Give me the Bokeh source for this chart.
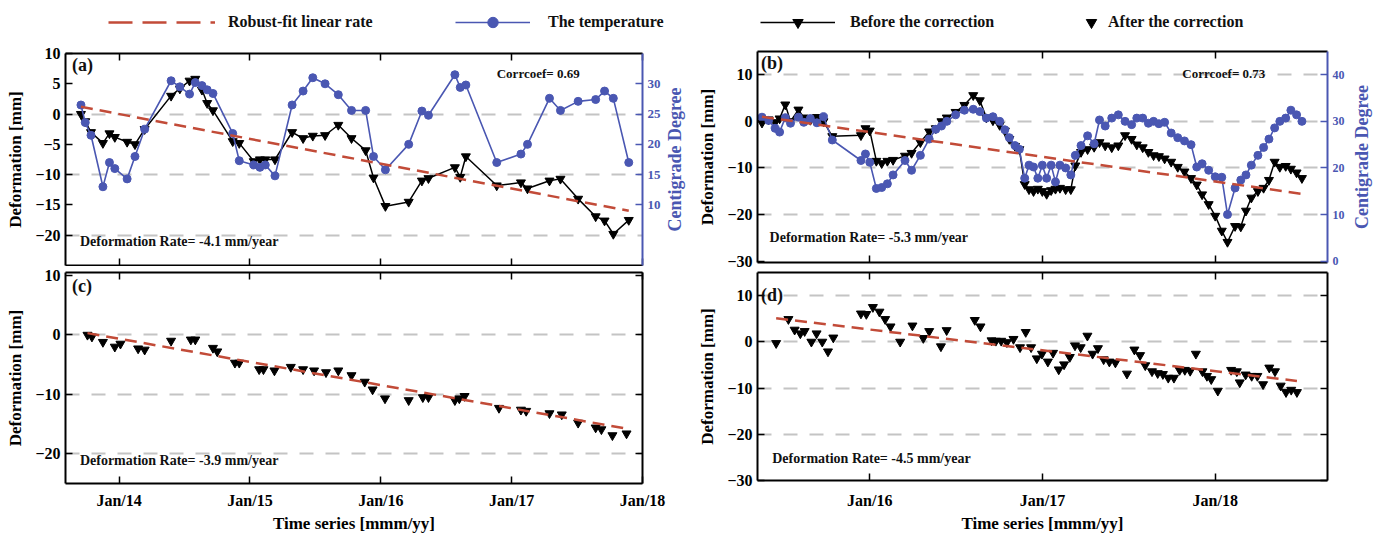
import math
from bokeh.plotting import figure
from bokeh.models import Range1d, LinearAxis, FixedTicker, Label, Legend, LegendItem
from bokeh.layouts import column, row
from bokeh.embed import file_html
from bokeh.resources import INLINE

# ---------------- data ----------------
year_ticks = [2014, 2015, 2016, 2017, 2018]
year_labels = ["Jan/14", "Jan/15", "Jan/16", "Jan/17", "Jan/18"]

# Site 1 (panels a, c): acquisition dates in decimal years
t_a = [2013.708, 2013.741, 2013.785, 2013.876, 2013.926, 2013.967, 2014.061, 2014.121,
       2014.195, 2014.397, 2014.464, 2014.538, 2014.582, 2014.633, 2014.673, 2014.717,
       2014.868, 2014.918, 2015.029, 2015.076, 2015.117, 2015.191, 2015.322, 2015.406,
       2015.480, 2015.574, 2015.675, 2015.776, 2015.884, 2015.944, 2016.035, 2016.213,
       2016.314, 2016.364, 2016.566, 2016.607, 2016.650, 2016.886, 2017.071, 2017.121,
       2017.289, 2017.373, 2017.508, 2017.642, 2017.710, 2017.777, 2017.895]
# deformation before the thermal correction [mm]
before_a = [0, -1.2, -3, -4.8, -3.2, -3.8, -4.6, -5, -2.5, 3, 4.2, 5.5, 5.8, 4.0, 1.8, 0.6,
            -4.5, -4.8, -7.8, -7.5, -7.5, -7.5, -3, -4, -3.6, -3.5, -1.8, -4, -6, -10.5,
            -15.2, -14.5, -11, -10.6, -8.8, -10.4, -7, -11.8, -11.3, -12.3, -11, -10.7,
            -14, -16.9, -17.6, -19.8, -17.5]
# air temperature [deg C]
temp_a = [26.5, 23.6, 21.5, 13, 17, 16, 14.3, 18, 22.5, 30.5, 29.5, 28.3, 30.2, 29.7, 29.0,
          28.4, 21.8, 17.3, 16.6, 16.2, 16.6, 14.8, 26.5, 28.8, 31, 30, 28.2, 25.6, 25.6,
          18, 15.8, 20, 25.5, 24.8, 31.5, 29.4, 29.8, 17, 18.4, 20, 27.6, 25.6, 27.1, 27.4,
          28.8, 27.6, 17]

t_c = [2013.758, 2013.792, 2013.876, 2013.967, 2014.010, 2014.145, 2014.195, 2014.397,
       2014.548, 2014.582, 2014.717, 2014.750, 2014.885, 2014.918, 2015.070, 2015.103,
       2015.187, 2015.312, 2015.406, 2015.490, 2015.581, 2015.675, 2015.776, 2015.877,
       2015.937, 2016.032, 2016.213, 2016.321, 2016.364, 2016.566, 2016.600, 2016.640,
       2016.903, 2017.071, 2017.111, 2017.289, 2017.383, 2017.508, 2017.642, 2017.686,
       2017.770, 2017.878]
# deformation after the thermal correction [mm]
after_c = [0, -0.3, -1.2, -2, -1.5, -2.3, -2.5, -1, -0.8, -0.8, -2.2, -2.8, -4.7, -4.7,
           -5.8, -5.8, -6, -5.4, -5.8, -6, -6.3, -6, -6.8, -7.9, -9.2, -10.7, -11, -10.5,
           -10.5, -11, -10.7, -10.3, -12.3, -12.6, -12.8, -13.2, -13.4, -14.8, -15.6,
           -15.9, -16.9, -16.6]

# Site 2 (panels b, d)
t_b = [2015.376, 2015.414, 2015.452, 2015.478, 2015.511, 2015.541, 2015.587, 2015.618,
       2015.656, 2015.694, 2015.732, 2015.783, 2015.949, 2015.975, 2016.000, 2016.038,
       2016.069, 2016.102, 2016.135, 2016.204, 2016.242, 2016.293, 2016.344, 2016.382,
       2016.415, 2016.446, 2016.497, 2016.548, 2016.599, 2016.637, 2016.675, 2016.713,
       2016.752, 2016.782, 2016.808, 2016.841, 2016.866, 2016.897, 2016.922, 2016.948,
       2016.973, 2016.999, 2017.024, 2017.050, 2017.075, 2017.101, 2017.134, 2017.164,
       2017.190, 2017.223, 2017.261, 2017.299, 2017.330, 2017.363, 2017.401, 2017.439,
       2017.478, 2017.516, 2017.546, 2017.580, 2017.613, 2017.643, 2017.674, 2017.707,
       2017.745, 2017.783, 2017.822, 2017.860, 2017.893, 2017.924, 2017.962, 2018.000,
       2018.038, 2018.071, 2018.115, 2018.148, 2018.178, 2018.209, 2018.247, 2018.280,
       2018.311, 2018.344, 2018.374, 2018.408, 2018.438, 2018.471, 2018.502]
before_b = [-0.3, 0.4, -0.2, 0.6, 3.6, 0.0, 2.5, 0.8, 0.3, 0.9, 0.0, -3.2, -3.0, -1.5, -2.0,
            -8.5, -9.0, -8.5, -8.3, -7.4, -6.8, -4.5, -2.2, -1.5, 0.0, 0.8, 2.0, 3.5, 5.6,
            4.5, 0.8, 0.2, -0.8, -2.0, -3.8, -5.3, -6.0, -13.5, -14.6, -15.0, -14.5, -15.0,
            -15.6, -14.8, -14.5, -14.3, -14.6, -14.6, -9.5, -6.6, -6.0, -5.5, -4.5, -5.2,
            -5.6, -5.2, -3.0, -3.8, -5.0, -5.6, -6.6, -7.3, -7.5, -8.0, -8.7, -9.8, -10.8,
            -12.2, -13.6, -15.7, -17.8, -20.3, -23.5, -25.9, -22.5, -22.6, -19.2, -16.4,
            -15.0, -14.3, -12.6, -8.7, -9.8, -9.6, -10.2, -11.0, -12.2]
temp_b = [30.9, 30.2, 28.5, 27.7, 30.8, 29.6, 30.9, 29.8, 30.6, 29.7, 31.0, 26.0, 21.6, 23.0,
          21.2, 15.6, 15.8, 16.6, 18.5, 21.6, 19.5, 22.7, 26.2, 28.3, 29.0, 30.0, 31.4, 32.4,
          32.6, 32.1, 30.7, 31.0, 30.0, 28.2, 26.5, 24.8, 24.0, 17.8, 20.6, 20.2, 17.8, 20.6,
          17.8, 20.6, 17.0, 20.6, 20.0, 18.5, 22.7, 24.8, 26.9, 25.2, 30.3, 29.0, 30.7, 31.4,
          30.0, 29.3, 30.7, 30.7, 29.6, 30.0, 29.5, 29.8, 27.5, 26.5, 25.8, 25.0, 20.2, 20.9,
          19.5, 18.1, 18.0, 10.0, 15.7, 17.4, 18.5, 20.6, 22.7, 24.4, 26.2, 28.6, 30.0, 30.7,
          32.4, 31.4, 30.0]

t_d = [2015.458, 2015.529, 2015.565, 2015.598, 2015.623, 2015.662, 2015.692, 2015.725,
       2015.758, 2015.789, 2015.949, 2015.980, 2016.018, 2016.056, 2016.089, 2016.120,
       2016.176, 2016.247, 2016.310, 2016.344, 2016.412, 2016.445, 2016.608, 2016.641,
       2016.705, 2016.730, 2016.761, 2016.794, 2016.832, 2016.870, 2016.903, 2016.934,
       2016.967, 2016.997, 2017.031, 2017.061, 2017.094, 2017.125, 2017.158, 2017.188,
       2017.221, 2017.260, 2017.290, 2017.321, 2017.354, 2017.387, 2017.422, 2017.489,
       2017.532, 2017.565, 2017.595, 2017.634, 2017.667, 2017.697, 2017.728, 2017.761,
       2017.794, 2017.824, 2017.855, 2017.888, 2017.926, 2017.952, 2017.977, 2018.015,
       2018.092, 2018.125, 2018.142, 2018.176, 2018.211, 2018.244, 2018.277, 2018.313,
       2018.346, 2018.379, 2018.410, 2018.440, 2018.473]
after_d = [-0.3, 4.9, 2.6, 1.8, 2.3, 0, 1.8, 0, -2.1, 0.9, 6.1, 6.0, 7.5, 6.5, 4.9, 3.3, 0,
           3.5, 0.8, 2.3, -1.0, 2.5, 4.7, 3.3, 0.3, 0.2, 0.2, -0.1, 0.6, -1.2, 2.1, -1.2,
           -3.6, -2.6, -4.3, -2.4, -6.0, -4.9, -3.3, -0.8, -1.2, 1.3, -2.6, -1.4, -3.8,
           -4.3, -4.5, -6.9, -1.7, -2.9, -5.1, -6.4, -6.8, -7.0, -7.8, -7.8, -6.1, -6.1,
           -6.3, -2.6, -6.4, -7.4, -8.1, -10.6, -6.1, -6.4, -8.8, -7.1, -7.4, -7.4, -9.2,
           -5.6, -6.4, -9.5, -10.9, -10.4, -10.9]

# robust-fit linear rates [mm/year] and fit values at the first epoch [mm]
rate_a, rate_b, rate_c, rate_d = -4.1, -5.3, -3.9, -4.5
fit0_a, fit0_b, fit0_c, fit0_d = 1.2, 1.0, 0.3, 5.1
corrcoef_a, corrcoef_b = 0.69, 0.73

# ---------------- style ----------------
FONT = "Liberation Serif"
BLUE = "#4a57b2"
RED = "#c24b38"
GRIDC = "#c4c4c4"
NAN = float("nan")


def fit_line(t, y0, rate):
    return [t[0], t[-1]], [y0, y0 + rate * (t[-1] - t[0])]


def style_axis(ax, color="black", labels=True, size="16px"):
    ax.axis_line_color = color
    ax.axis_line_width = 2
    ax.major_tick_line_color = color
    ax.major_tick_line_width = 1.5
    ax.major_tick_in = 7
    ax.major_tick_out = 0
    ax.minor_tick_line_color = None
    ax.major_label_text_font = FONT
    ax.major_label_text_font_style = "bold"
    ax.axis_label_text_font = FONT
    ax.axis_label_text_font_style = "bold"
    ax.axis_label_text_color = color
    ax.axis_label_text_font_size = "17px"
    if labels:
        ax.major_label_text_color = color
        ax.major_label_text_font_size = size
        ax.major_label_standoff = 5
    else:
        # tick marks only
        ax.major_label_text_color = None
        ax.major_label_text_font_size = "0px"
        ax.major_label_standoff = 0


def panel(width, height, xr, yr, borders, grid_ticks):
    left, right, top, bottom = borders
    p = figure(width=width, height=height, x_range=Range1d(*xr), y_range=Range1d(*yr),
               x_axis_location=None, y_axis_location=None,
               min_border_left=left, min_border_right=right,
               min_border_top=top, min_border_bottom=bottom,
               output_backend="svg", toolbar_location=None, outline_line_color=None,
               background_fill_color="white", border_fill_color="white")
    p.xgrid.grid_line_color = None
    p.ygrid.ticker = FixedTicker(ticks=grid_ticks)
    p.ygrid.grid_line_color = GRIDC
    p.ygrid.grid_line_width = 1.8
    p.ygrid.grid_line_dash = "14 12"
    return p


def title_strip(width, height, x, y):
    """Narrow canvas holding the temperature-axis title, reading upwards."""
    s = figure(width=width, height=height, x_range=Range1d(0, 1), y_range=Range1d(0, 1),
               x_axis_location=None, y_axis_location=None,
               min_border_left=0, min_border_right=0, min_border_top=0, min_border_bottom=0,
               output_backend="svg", toolbar_location=None, outline_line_color=None)
    s.grid.grid_line_color = None
    s.add_layout(Label(x=x, y=y, text="Centigrade Degree", angle=math.pi / 2,
                       text_font=FONT, text_font_style="bold", text_font_size="18px",
                       text_align="center", text_baseline="middle", text_color=BLUE))
    return s


def x_axes(p, labelled, label_standoff=8):
    bottom = LinearAxis(ticker=FixedTicker(ticks=year_ticks),
                        major_label_overrides=dict(zip(year_ticks, year_labels)))
    style_axis(bottom, labels=labelled)
    if labelled:
        bottom.axis_label = "Time series [mmm/yy]"
        bottom.major_label_standoff = label_standoff
        bottom.axis_label_standoff = 2
    p.add_layout(bottom, "below")
    top = LinearAxis(ticker=FixedTicker(ticks=year_ticks))
    style_axis(top, labels=False)
    p.add_layout(top, "above")


def left_axis(p, ticks):
    ax = LinearAxis(ticker=FixedTicker(ticks=ticks), axis_label="Deformation [mm]")
    style_axis(ax)
    ax.axis_label_standoff = 7
    p.add_layout(ax, "left")


def temp_axis(p, ticks, size):
    ax = LinearAxis(y_range_name="temp", ticker=FixedTicker(ticks=ticks))
    style_axis(ax, color=BLUE, size=size)
    p.add_layout(ax, "right")


def mirror_axis(p, ticks):
    ax = LinearAxis(ticker=FixedTicker(ticks=ticks))
    style_axis(ax, labels=False)
    p.add_layout(ax, "right")


def text(p, x, y, s, size, align="left", baseline="middle"):
    p.add_layout(Label(x=x, y=y, text=s, text_font=FONT, text_font_style="bold",
                       text_font_size=size, text_align=align, text_baseline=baseline,
                       text_color="#111111"))


def before_series(p, t, v):
    p.line(t, v, line_color="black", line_width=1.5)
    p.scatter(t, v, marker="inverted_triangle", size=9, color="black")


def temp_series(p, t, v):
    p.line(t, v, y_range_name="temp", line_color=BLUE, line_width=1.6)
    p.scatter(t, v, y_range_name="temp", marker="circle", size=8, color=BLUE)


def after_series(p, t, v):
    p.scatter(t, v, marker="inverted_triangle", size=9, color="black")


def fit_series(p, t, y0, rate):
    fx, fy = fit_line(t, y0, rate)
    p.line(fx, fy, line_color=RED, line_width=2.5, line_dash="12 7")


XR_1 = (2013.59, 2018.0)
XR_2 = (2015.35, 2018.65)

# ---------------- (a) ----------------
pa = panel(663, 226, XR_1, (-25, 10), (65, 21, 13, 1), [0, -10, -20])
pa.extra_y_ranges = {"temp": Range1d(0, 35)}
x_axes(pa, False)
left_axis(pa, [10, 5, 0, -5, -10, -15, -20])
temp_axis(pa, [10, 15, 20, 25, 30], "13px")
before_series(pa, t_a, before_a)
temp_series(pa, t_a, temp_a)
fit_series(pa, t_a, fit0_a, rate_a)
text(pa, 2013.64, 9.7, "(a)", "18px", baseline="top")
text(pa, 2017.52, 6.7, f"Corrcoef= {corrcoef_a:.2f}", "13px", align="right")
text(pa, 2013.70, -21.0, f"Deformation Rate= {rate_a} mm/year", "14px")
ta = title_strip(32, 226, 0.35, 0.50)

# ---------------- (c) ----------------
pc = panel(695, 269, XR_1, (-25, 10.5), (65, 53, 6, 46), [0, -10, -20])
x_axes(pc, True, 8)
left_axis(pc, [10, 0, -10, -20])
mirror_axis(pc, [10, 0, -10, -20])
after_series(pc, t_c, after_c)
fit_series(pc, t_c, fit0_c, rate_c)
text(pc, 2013.64, 9.9, "(c)", "18px", baseline="top")
text(pc, 2013.70, -21.1, f"Deformation Rate= {rate_c} mm/year", "14px")

# ---------------- (b) ----------------
pb = panel(652, 231, XR_2, (-30.3, 15), (55, 20, 11, 9), [10, 0, -10, -20])
pb.extra_y_ranges = {"temp": Range1d(-0.3, 45)}
x_axes(pb, False)
left_axis(pb, [10, 0, -10, -20, -30])
temp_axis(pb, [0, 10, 20, 30, 40], "12px")
before_series(pb, t_b, before_b)
temp_series(pb, t_b, temp_b)
fit_series(pb, t_b, fit0_b, rate_b)
text(pb, 2015.37, 14.7, "(b)", "18px", baseline="top")
text(pb, 2018.29, 10.2, f"Corrcoef= {corrcoef_b:.2f}", "13px", align="right")
text(pb, 2015.42, -25.0, f"Deformation Rate= {rate_b} mm/year", "14px")
tb = title_strip(34, 231, 0.44, 0.50)

# ---------------- (d) ----------------
pd_ = panel(686, 264, XR_2, (-30, 15), (55, 54, 1, 49), [10, 0, -10, -20])
x_axes(pd_, True, 11)
left_axis(pd_, [10, 0, -10, -20, -30])
mirror_axis(pd_, [10, 0, -10, -20, -30])
after_series(pd_, t_d, after_d)
fit_series(pd_, t_d, fit0_d, rate_d)
text(pd_, 2015.37, 12.4, "(d)", "18px", baseline="top")
text(pd_, 2015.435, -25.3, f"Deformation Rate= {rate_d} mm/year", "14px")

# ---------------- legend strip ----------------
leg = figure(width=1381, height=40, x_range=Range1d(0, 1), y_range=Range1d(0, 1),
             x_axis_location=None, y_axis_location=None,
             min_border_left=0, min_border_right=0, min_border_top=0, min_border_bottom=0,
             output_backend="svg", toolbar_location=None, outline_line_color=None)
leg.grid.grid_line_color = None
# proxy renderers (a single NaN point, nothing is drawn in the frame)
r_fit = leg.line([NAN], [NAN], line_color=RED, line_width=2.5, line_dash="24 10")
r_tl = leg.line([NAN], [NAN], line_color=BLUE, line_width=1.6)
r_tm = leg.scatter([NAN], [NAN], marker="circle", color=BLUE)
r_bl = leg.line([NAN], [NAN], line_color="black", line_width=1.5)
r_bm = leg.scatter([NAN], [NAN], marker="inverted_triangle", color="black")
r_am = leg.scatter([NAN], [NAN], marker="inverted_triangle", color="black")

legend_specs = [
    ("Robust-fit linear rate", [r_fit], 108, 107, 13),
    ("The temperature", [r_tl, r_tm], 455, 75, 18),
    ("Before the correction", [r_bl, r_bm], 760, 75, 15),
    ("After the correction", [r_am], 1078, 26, 4),
]
for label, rends, x0, gw, standoff in legend_specs:
    lg = Legend(items=[LegendItem(label=label, renderers=rends)], location=(x0, 5),
                orientation="horizontal", glyph_width=gw, glyph_height=26,
                label_standoff=standoff, padding=0, margin=0, spacing=0,
                border_line_color=None, background_fill_alpha=0,
                label_text_font=FONT, label_text_font_style="bold",
                label_text_font_size="16px", label_text_color="#111111")
    leg.add_layout(lg)

page = column(leg, row(column(row(pa, ta), pc), column(row(pb, tb), pd_)))
open("out.html", "w").write(file_html(page, INLINE))
